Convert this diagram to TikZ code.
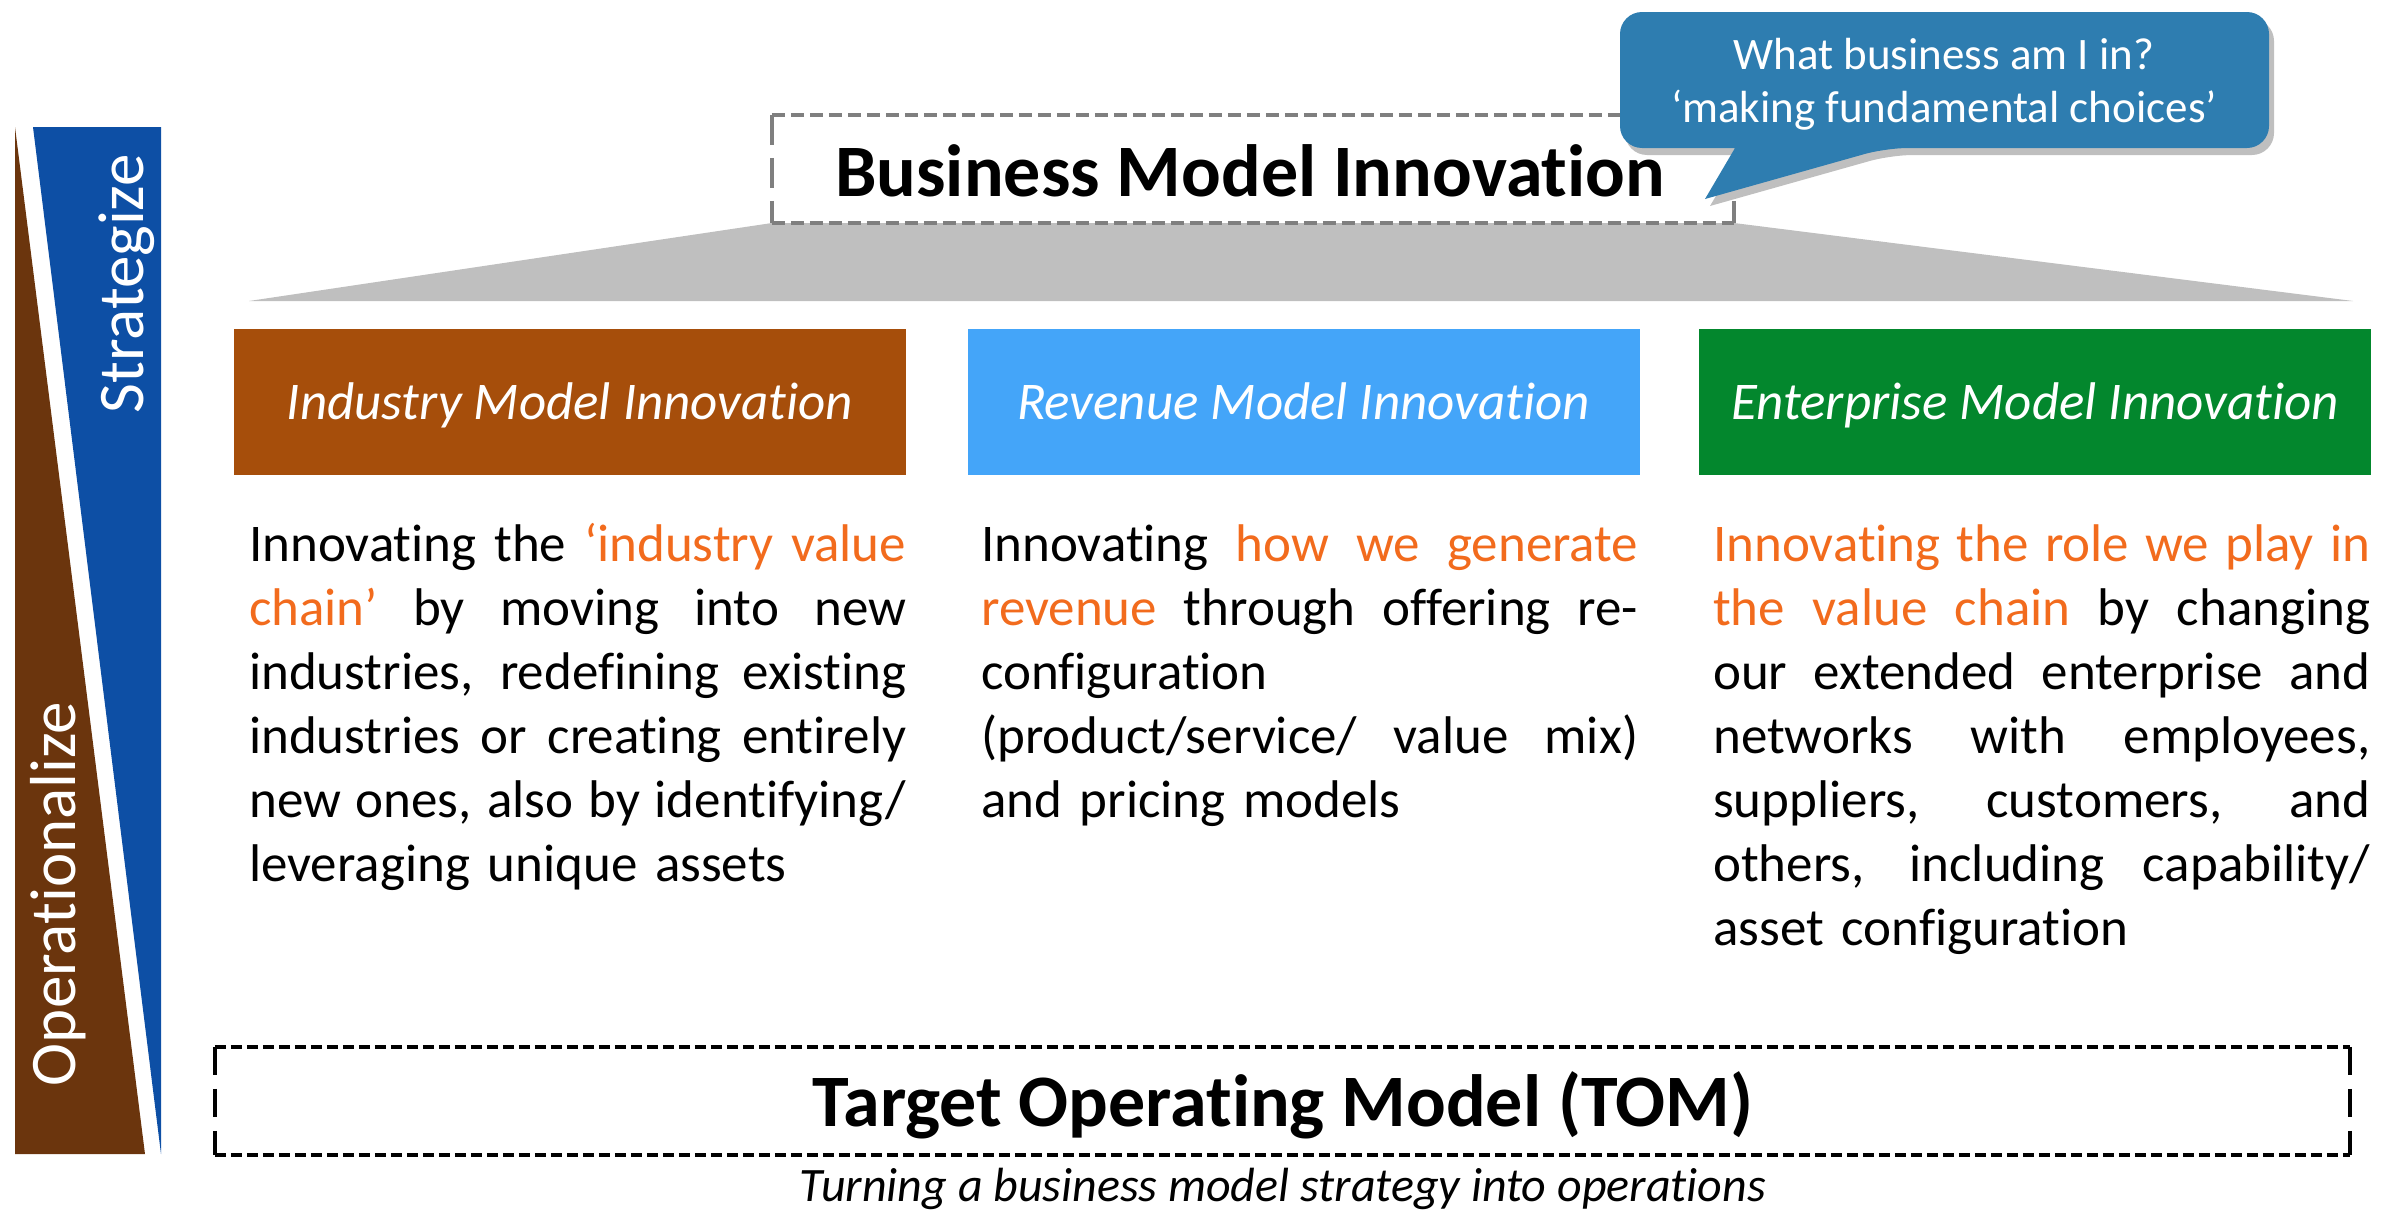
\documentclass[tikz,border=0pt]{standalone}
\usepackage{fontspec}
\setmainfont{Carlito}[Ligatures=NoCommon]
\definecolor{obrown}{HTML}{6B350D}
\definecolor{sblue}{HTML}{0D4FA5}
\definecolor{ibrown}{HTML}{A64E0B}
\definecolor{rblue}{HTML}{44A5F9}
\definecolor{egreen}{HTML}{03872D}
\definecolor{hl}{HTML}{F26B1D}
\definecolor{bubblec}{HTML}{2E7DB0}
\definecolor{trapc}{HTML}{BFBFBF}
\definecolor{dashgray}{HTML}{7F7F7F}
\newlength{\colw}
\setlength{\colw}{657pt}
\newcommand{\jl}[1]{\makebox[\colw][s]{\spaceskip=0.226em plus 1fil\relax #1}}
\newcommand{\hlt}[1]{\textcolor{hl}{#1}}
\begin{document}
\begin{tikzpicture}[x=1pt,y=-1pt,
  header/.style={minimum width=672pt, minimum height=146pt, inner sep=0pt, text=white,
    font=\fontsize{53}{62}\selectfont\itshape, text height=34pt, text depth=0pt},
  body/.style={anchor=base west, inner sep=0pt, text width=\colw, align=left,
    font=\fontsize{53}{64}\selectfont},
  sidelabel/.style={rotate=90, inner sep=0pt, text=white, font=\fontsize{65}{70}\selectfont,
    text height=41pt, text depth=0pt},
  bigtitle/.style={inner sep=0pt, font=\fontsize{74}{80}\selectfont\bfseries, text height=47.6pt, text depth=0pt},
  edgeh/.style={line width=4.5pt, dash pattern=on 13pt off 6pt},
  edgev/.style={line width=4.5pt, dash pattern=on 30pt off 13pt},
]
\useasboundingbox (0,0) rectangle (2396,1210);

% left bar
\fill[obrown] (15,127) -- (145,1154) -- (15,1154) -- cycle;
\fill[sblue] (33,127) -- (161,127) -- (161,1154) -- cycle;
\node[sidelabel] (strat) at (123,284) {Strategize};
\node[sidelabel] (oper) at (55,894) {Operationalize};

% gray trapezoid
\coordinate (tl) at (772,223);
\coordinate (tr) at (1734,223);
\coordinate (bl) at (249,301);
\coordinate (br) at (2353,301);
\fill[trapc] (tl) -- (tr) -- (br) -- (bl) -- cycle;

% Business Model Innovation box
\node[minimum width=962pt, minimum height=108pt, inner sep=0pt] (bmi) at (1253,169) {};
\node[bigtitle] (bmit) at (1250,173) {Business Model Innovation};
\draw[dashgray, edgeh] (bmi.north west) -- (bmi.north east);
\draw[dashgray, edgeh] (bmi.south west) -- (bmi.south east);
\draw[dashgray, edgev] (bmi.north west) -- (bmi.south west);
\draw[dashgray, edgev] (bmi.north east) -- (bmi.south east);

% headers
\node[header, fill=ibrown] (h1) at (570,402) {Industry Model Innovation};
\node[header, fill=rblue] (h2) at (1303.5,402) {Revenue Model Innovation};
\node[header, fill=egreen] (h3) at (2035,402) {Enterprise Model Innovation};

% bodies
\node[body] (b1) at (249,561) {\noindent
\jl{Innovating the \hlt{‘industry value}}\\
\jl{\hlt{chain’} by moving into new}\\
\jl{industries, redefining existing}\\
\jl{industries or creating entirely}\\
\jl{new ones, also by identifying/}\\
leveraging unique assets};

\node[body] (b2) at (981,561) {\noindent
\jl{Innovating \hlt{how we generate}}\\
\jl{\hlt{revenue} through offering re-}\\
configuration\\
\jl{(product/service/ value mix)}\\
and pricing models};

\node[body] (b3) at (1713,561) {\noindent
\jl{\hlt{Innovating the role we play in}}\\
\jl{\hlt{the value chain} by changing}\\
\jl{our extended enterprise and}\\
\jl{networks with employees,}\\
\jl{suppliers, customers, and}\\
\jl{others, including capability/}\\
asset configuration};

% TOM box
\node[minimum width=2135pt, minimum height=108pt, inner sep=0pt] (tom) at (1282.5,1101) {};
\node[bigtitle] (tomt) at (1283,1103) {Target Operating Model (TOM)};
\draw[black, line width=4.5pt, dash pattern=on 11pt off 5pt] (tom.north west) -- (tom.north east);
\draw[black, line width=4.5pt, dash pattern=on 11pt off 5pt] (tom.south west) -- (tom.south east);
\draw[black, line width=4pt, dash pattern=on 28pt off 14pt] (tom.north west) -- (tom.south west);
\draw[black, line width=4pt, dash pattern=on 28pt off 14pt] (tom.north east) -- (tom.south east);
\node[inner sep=0pt, font=\fontsize{48}{54}\selectfont\itshape, text height=31pt, text depth=0pt] (sub) at (1283,1186) {Turning a business model strategy into operations};

% speech bubble
\begin{scope}[shift={(5,7)}]
\fill[black, opacity=0.25] (1735,148) [rounded corners=22pt] -- (1620,148) -- (1620,12) -- (2269,12) -- (2269,148) -- (1886,148) [sharp corners] -- (1705,199) -- cycle;
\end{scope}
\fill[bubblec] (1735,148) [rounded corners=22pt] -- (1620,148) -- (1620,12) -- (2269,12) -- (2269,148) -- (1886,148) [sharp corners] -- (1705,199) -- cycle;
\node[inner sep=0pt, text=white, align=center, font=\fontsize{45}{53}\selectfont] (bq) at (1944,84) {What business am I in?\\‘making fundamental choices’};
\end{tikzpicture}
\end{document}
